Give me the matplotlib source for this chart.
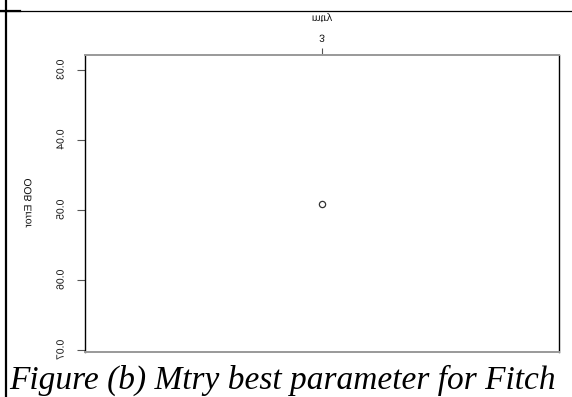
import matplotlib
matplotlib.use("Agg")
import matplotlib.pyplot as plt
import matplotlib.patheffects as pe
from matplotlib.transforms import Affine2D
from matplotlib.lines import Line2D

# data
mtry = [3]
oob_error = [0.0491]
y_ticks = [0.03, 0.04, 0.05, 0.06, 0.07]
y_tick_labels = ["0.03", "0.04", "0.05", "0.06", "0.07"]
x_ticks = [3]
x_tick_labels = ["3"]
caption = "Figure (b) Mtry best parameter for Fitch"

W, H = 572, 397


class FlipText(pe.AbstractPathEffect):
    # the R plot in the source is mirrored top to bottom, glyphs included
    def draw_path(self, renderer, gc, tpath, affine, rgbFace=None):
        bb = tpath.get_extents(affine)
        cy = (bb.y0 + bb.y1) / 2
        flip = Affine2D().translate(0, -cy).scale(1, -1).translate(0, cy)
        renderer.draw_path(gc, tpath, affine + flip, rgbFace)


def fx(x):
    return x / W


def fy(y):
    return 1 - y / H


fig = plt.figure(figsize=(W / 100, H / 100), dpi=100)
ax = fig.add_axes([fx(85), fy(352), fx(559) - fx(85), fy(55) - fy(352)])

ax.plot(mtry, oob_error, linestyle="none", marker="o", markersize=4.5,
        markerfacecolor="none", markeredgecolor="#333333", markeredgewidth=0.9)

ax.set_xlim(1.704, 4.296)
ax.set_ylim(0.07031, 0.02789)

ax.xaxis.tick_top()
ax.xaxis.set_label_position("top")
ax.set_xticks(x_ticks, x_tick_labels)
ax.set_yticks(y_ticks, y_tick_labels)

ax.tick_params(axis="x", length=5, width=0.8, color="#555555", pad=3,
               labelsize=7.5, labelcolor="#111111")
ax.tick_params(axis="y", length=6, width=0.8, color="#555555", pad=8,
               labelsize=7.5, labelcolor="#111111")

for lab in ax.get_yticklabels():
    lab.set_rotation(90)
    lab.set_va("center")
    lab.set_fontfamily("Liberation Sans")
    lab.set_path_effects([FlipText()])
for lab in ax.get_xticklabels():
    lab.set_fontfamily("Liberation Sans")
    lab.set_path_effects([FlipText()])

ax.set_xlabel("mtry", fontsize=7.5, family="Liberation Sans", color="#111111",
              labelpad=10, path_effects=[FlipText()])
ax.set_ylabel("OOB Error", fontsize=7.5, family="Liberation Sans", color="#111111",
              labelpad=16, rotation=90, path_effects=[FlipText()])

for side in ["top", "bottom"]:
    ax.spines[side].set_color("#999999")
    ax.spines[side].set_linewidth(1.4)
for side in ["left", "right"]:
    ax.spines[side].set_color("black")
    ax.spines[side].set_linewidth(1.0)

# table border lines round the figure
fig.add_artist(Line2D([fx(6), fx(6)], [fy(0), fy(397)], color="black",
                      linewidth=1.6, transform=fig.transFigure))
fig.add_artist(Line2D([fx(0), fx(572)], [fy(11), fy(11)], color="black",
                      linewidth=0.9, transform=fig.transFigure))
fig.add_artist(Line2D([fx(0), fx(20)], [fy(11), fy(11)], color="black",
                      linewidth=1.6, transform=fig.transFigure))

fig.text(fx(9), fy(389), caption, family="Liberation Serif", style="italic",
         fontsize=24, va="baseline", ha="left", color="black")

fig.savefig("out.png", dpi=100)
